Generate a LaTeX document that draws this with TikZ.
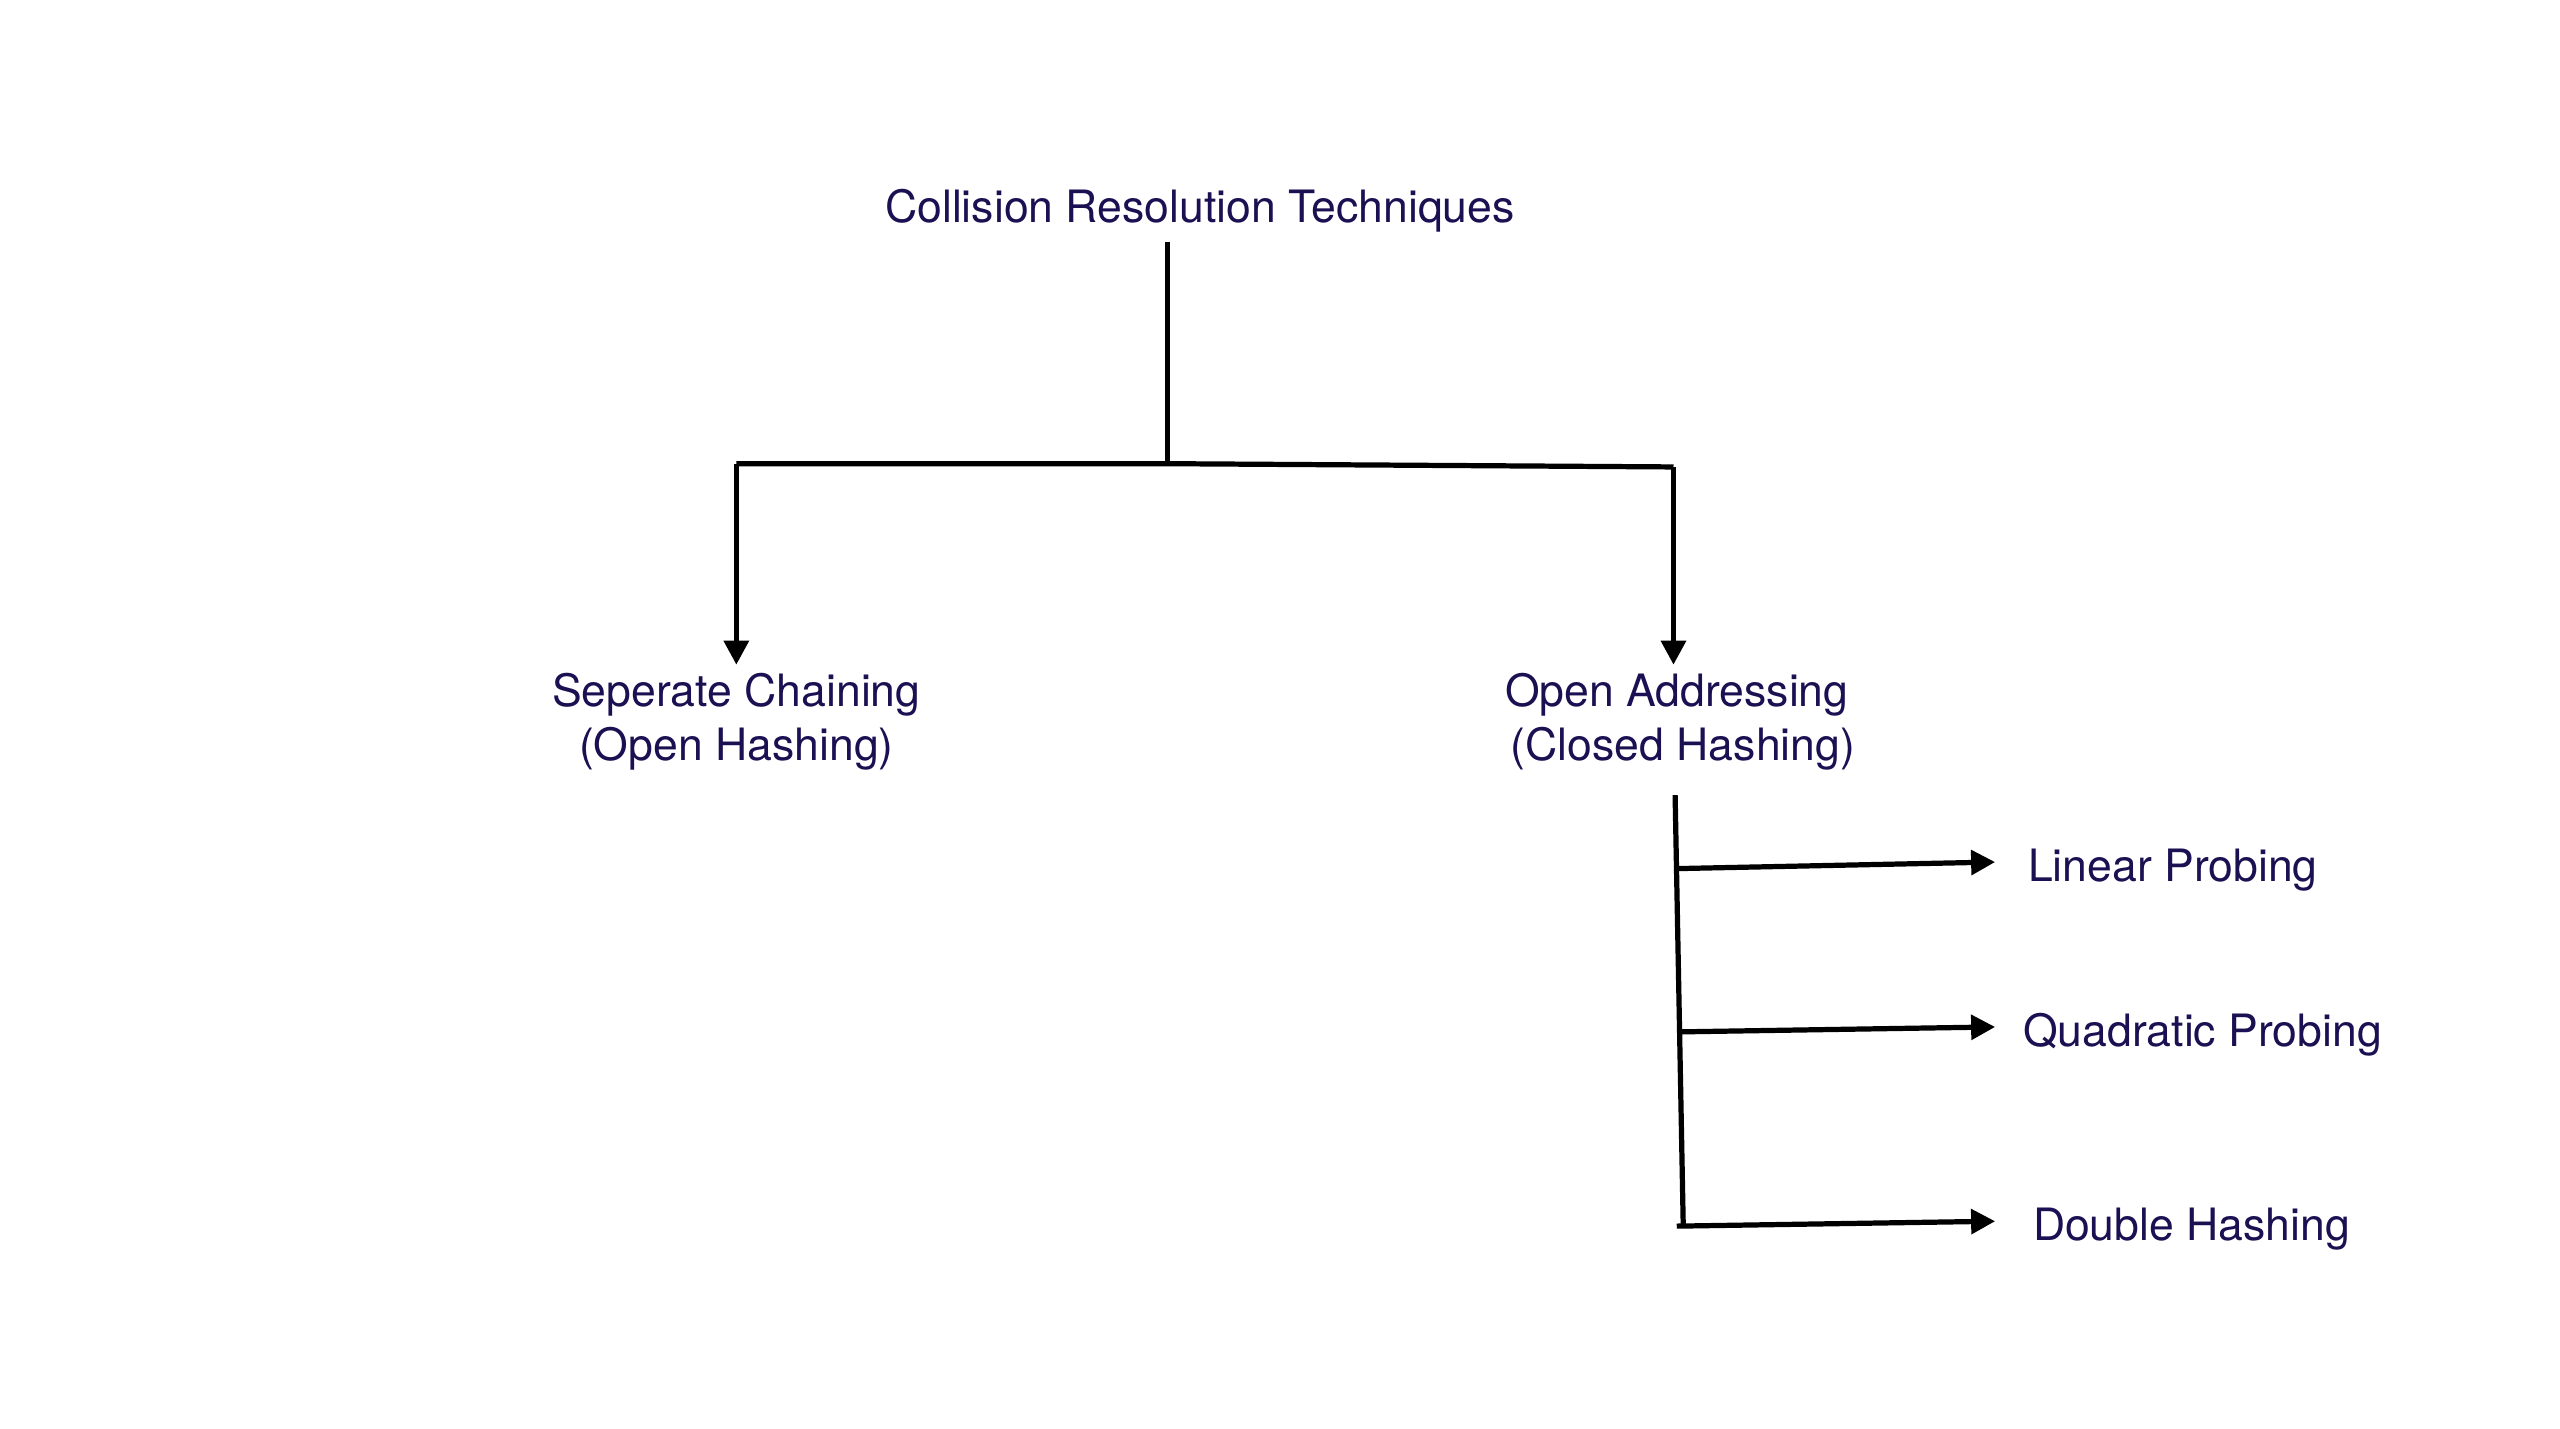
\documentclass[tikz,border=0pt]{standalone}
\usepackage{fontspec}
\setmainfont{TeX Gyre Heros}
\usetikzlibrary{arrows.meta}
\definecolor{txtc}{RGB}{26,16,82}
\begin{document}
\begin{tikzpicture}[x=1pt,y=-1pt,
  lbl/.style={text=txtc,font=\fontsize{27.3}{33}\selectfont,inner sep=0pt},
  lbltwo/.style={lbl,align=center,inner sep=5pt},
  conn/.style={line width=3.2pt,line cap=butt,line join=miter},
  arr/.style={conn,-{Triangle[length=14.7pt,width=14.9pt]}}]
\useasboundingbox (0,0) rectangle (1568,875);
% nodes
\node[lbl,anchor=base] (t) at (735,136) {Collision Resolution Techniques};
\node[lbltwo] (sc) at (451,442) {Seperate Chaining\\(Open Hashing)};
\node[lbltwo] (oa) at (1027,442) {Open Addressing\\\ (Closed Hashing)};
\node[lbl,anchor=base west] (lp) at (1242,540) {Linear Probing};
\node[lbl,anchor=base west] (qp) at (1239,641) {Quadratic Probing};
\node[lbl,anchor=base west] (dh) at (1245,760) {Double Hashing};
% junctions
\coordinate (j0) at (715,284);
\coordinate (jl) at (451,284);
\coordinate (jr) at (1025,286);
\coordinate (v0) at (1026,487);
\coordinate (v1) at (1028,532);
\coordinate (v2) at (1030,632);
\coordinate (v3) at (1031,752);
\coordinate (b3) at (1027,751);
\coordinate (t1) at (1222,528);
\coordinate (t2) at (1222,629);
\coordinate (t3) at (1222,748);
% connectors
\draw[conn] (715,148) -- (j0);
\draw[conn] (jl) -- (j0) -- (jr);
\draw[arr] (jl) -- (jl |- sc.north);
\draw[arr] (jr) -- (jr |- oa.north);
\draw[conn] (v0) -- (v3);
\draw[arr] (v1) -- (t1);
\draw[arr] (v2) -- (t2);
\draw[arr] (b3) -- (t3);
\end{tikzpicture}
\end{document}
